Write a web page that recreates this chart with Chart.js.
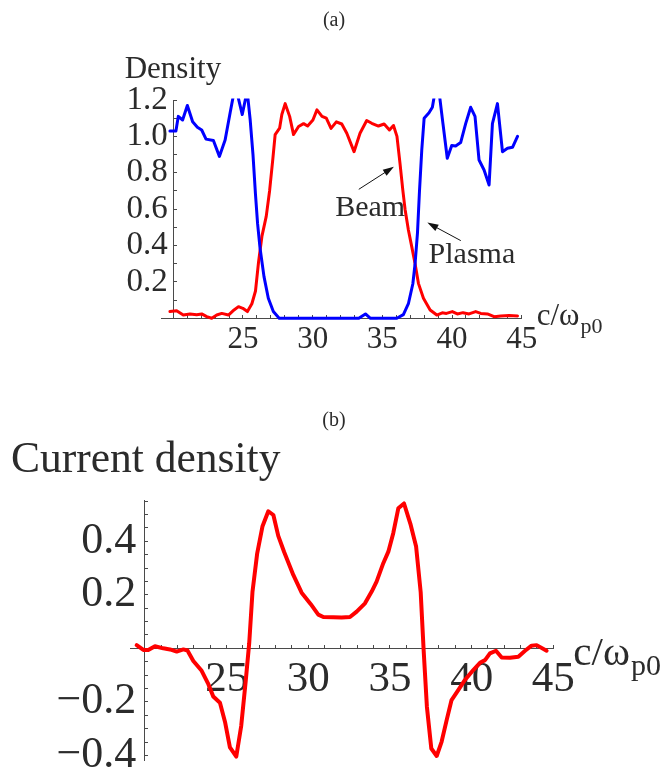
<!DOCTYPE html>
<html>
<head>
<meta charset="utf-8">
<script src="https://cdn.jsdelivr.net/npm/chart.js@4.4.1/dist/chart.umd.min.js"></script>
<style>
  html, body { margin: 0; padding: 0; background: #fff; overflow: hidden; width: 668px; height: 772px; }
  .panel { position: absolute; left: 0; }
  #panelA { top: 0; }
  #panelB { top: 380px; }
</style>
</head>
<body>
<div class="panel" id="panelA"><canvas id="densityChart" width="668" height="380"></canvas></div>
<div class="panel" id="panelB"><canvas id="currentChart" width="668" height="420"></canvas></div>
<script>
// ---- panel (a): beam and plasma density along the propagation axis ----
const beamX = [19.76, 20.24, 20.72, 21.2, 21.68, 22.04, 22.4, 22.76, 23.12, 23.48, 23.96, 24.36, 24.68, 24.99, 25.32,
  25.64, 25.9, 26.12, 26.36, 26.67, 26.91, 27.15, 27.31, 27.63, 27.79, 28.03, 28.35, 28.63, 28.99, 29.35, 29.64,
  30.02, 30.31, 30.67, 30.98, 31.32, 31.7, 32.09, 32.45, 32.97, 33.4, 33.88, 34.24, 34.72, 35.13, 35.51, 35.8,
  36.05, 36.27, 36.47, 36.63, 36.87, 37.11, 37.35, 37.59, 37.95, 38.43, 38.91, 39.3, 39.6, 40.02, 40.38, 40.79,
  41.22, 41.7, 42.06, 42.54, 43.02, 43.5, 44.1, 44.7];
const beamY = [0.037, 0.042, 0.018, 0.024, 0.02, 0.024, 0.009, 0.0, 0.018, 0.027, 0.018, 0.046, 0.064, 0.055, 0.037,
  0.08, 0.15, 0.31, 0.45, 0.56, 0.70, 0.88, 1.01, 1.045, 1.12, 1.18, 1.11, 1.01, 1.054, 1.07, 1.057,
  1.09, 1.146, 1.11, 1.10, 1.044, 1.08, 1.068, 1.017, 0.916, 1.017, 1.087, 1.072, 1.057, 1.068, 1.035, 1.06,
  1.0, 0.85, 0.705, 0.60, 0.485, 0.394, 0.30, 0.192, 0.11, 0.046, 0.018, 0.03, 0.027, 0.037, 0.024, 0.031,
  0.024, 0.037, 0.027, 0.024, 0.009, 0.013, 0.016, 0.013];

const plasmaX = [19.76, 20.19, 20.36, 20.67, 21.01, 21.39, 21.73, 22.04, 22.35, 22.88, 23.31, 23.72, 24.08, 24.45,
  24.95, 25.3, 25.52, 25.72, 25.9, 26.05, 26.22, 26.51, 26.82, 27.18, 27.6, 33.31, 33.79, 34.15, 36.04, 36.51,
  36.87, 37.19, 37.35, 37.52, 37.66, 37.83, 38.0, 38.35, 38.59, 38.95, 39.35, 39.66, 39.98, 40.26, 40.62, 40.98,
  41.34, 41.65, 41.94, 42.3, 42.66, 42.9, 43.26, 43.62, 43.98, 44.34, 44.7];
const plasmaY = [1.03, 1.03, 1.11, 1.09, 1.17, 1.08, 1.05, 1.035, 0.985, 0.977, 0.89, 0.98, 1.13, 1.28,
  1.12, 1.25, 1.09, 0.90, 0.68, 0.52, 0.39, 0.229, 0.11, 0.037, 0.0, 0.0, 0.024, 0.0, 0.0, 0.02,
  0.08, 0.19, 0.30, 0.467, 0.69, 0.925, 1.1, 1.13, 1.16, 1.32, 1.07, 0.88, 0.95, 0.947, 0.966, 1.07,
  1.16, 1.11, 0.87, 0.815, 0.733, 1.07, 1.18, 0.916, 0.935, 0.94, 1.0];

// ---- panel (b): current density ----
const currentX = [19.49, 19.9, 20.2, 20.61, 21.12, 21.53, 21.94, 22.35, 22.6, 22.96, 23.47, 23.88, 24.18, 24.59,
  24.9, 25.2, 25.59, 25.89, 26.17, 26.38, 26.58, 26.87, 27.19, 27.55, 27.86, 28.16, 28.52, 29.08, 29.59, 30.15,
  30.61, 30.92, 31.53, 32.04, 32.55, 32.96, 33.47, 33.88, 34.18, 34.59, 34.9, 35.2, 35.51, 35.86, 36.25, 36.6,
  36.88, 37.06, 37.26, 37.53, 37.86, 38.16, 38.47, 38.77, 39.18, 39.59, 40.1, 40.51, 40.82, 41.12, 41.49, 41.84,
  42.35, 42.86, 43.27, 43.67, 43.98, 44.59];
const currentY = [0.012, -0.006, -0.006, 0.008, 0.0, -0.004, -0.012, -0.004, -0.008, -0.047, -0.084, -0.134, -0.18, -0.203,
  -0.275, -0.37, -0.404, -0.29, -0.12, 0.019, 0.21, 0.355, 0.455, 0.512, 0.498, 0.42, 0.36, 0.274, 0.208, 0.165,
  0.126, 0.117, 0.116, 0.115, 0.117, 0.137, 0.168, 0.212, 0.249, 0.318, 0.361, 0.43, 0.523, 0.541, 0.465, 0.38,
  0.21, -0.006, -0.218, -0.374, -0.402, -0.349, -0.268, -0.193, -0.156, -0.118, -0.081, -0.054, -0.044, -0.019, -0.009, -0.034,
  -0.035, -0.031, -0.009, 0.01, 0.012, -0.009];

// ---- tick labels ----
const posTickValues = [25, 30, 35, 40, 45];
const posTickLabels = ['25', '30', '35', '40', '45'];
const densityTickValues = [0.2, 0.4, 0.6, 0.8, 1.0, 1.2];
const densityTickLabels = ['0.2', '0.4', '0.6', '0.8', '1.0', '1.2'];
const currentTickValues = [-0.4, -0.2, 0.2, 0.4];
const currentTickLabels = ['\u22120.4', '\u22120.2', '0.2', '0.4'];

const SERIF = '"Liberation Serif", "Times New Roman", serif';
const INK = '#2b2b2b';
const AXIS = '#4a4a4a';

// minor + major tick positions, skipping the axis origin
function stepTicks(from, to, step, skip) {
  const out = [];
  for (let k = Math.ceil(from / step - 1e-9); k * step <= to + 1e-9; k++) {
    const v = +(k * step).toFixed(6);
    if (Math.abs(v - skip) > 1e-9) out.push(v);
  }
  return out;
}
// labelled ticks get their text; the rest stay bare marks.
// `gap` is a trailing space that keeps value labels clear of a crossing axis.
function labelFor(v, values, labels, gap) {
  const i = values.findIndex(t => Math.abs(t - v) < 1e-6);
  return i >= 0 ? labels[i] + gap : '';
}
function points(xs, ys) { return xs.map((x, i) => ({x, y: ys[i]})); }

function axisOptions(cfg) {
  return {
    type: 'linear',
    min: cfg.min, max: cfg.max,
    position: cfg.position,
    afterBuildTicks: scale => { scale.ticks = cfg.ticks.map(v => ({value: v})); },
    ticks: {
      autoSkip: false, maxRotation: 0, minRotation: 0,
      padding: cfg.padding,
      color: INK,
      font: {family: SERIF, size: cfg.fontSize},
      callback: v => labelFor(v, cfg.labelValues, cfg.labels, cfg.gap || '')
    },
    grid: {drawOnChartArea: false, drawTicks: true, tickLength: -4, tickColor: AXIS, tickWidth: 1},
    border: {display: true, color: AXIS, width: 1}
  };
}

function drawArrow(ctx, x0, y0, x1, y1) {
  const ang = Math.atan2(y1 - y0, x1 - x0);
  const len = 11, half = 3.6;
  ctx.beginPath();
  ctx.moveTo(x0, y0);
  ctx.lineTo(x1 - Math.cos(ang) * len * 0.8, y1 - Math.sin(ang) * len * 0.8);
  ctx.stroke();
  ctx.beginPath();
  ctx.moveTo(x1, y1);
  ctx.lineTo(x1 - Math.cos(ang) * len + Math.sin(ang) * half, y1 - Math.sin(ang) * len - Math.cos(ang) * half);
  ctx.lineTo(x1 - Math.cos(ang) * len - Math.sin(ang) * half, y1 - Math.sin(ang) * len + Math.cos(ang) * half);
  ctx.closePath();
  ctx.fill();
}

function drawUnit(ctx, x, y, size) {
  ctx.font = size + 'px ' + SERIF;
  ctx.textAlign = 'left';
  ctx.fillText('c/\u03c9', x, y);
  const w = ctx.measureText('c/\u03c9').width;
  ctx.font = Math.round(size * 0.72) + 'px ' + SERIF;
  ctx.fillText('p0', x + w + 1, y + size * 0.24);
}

// callouts for panel (a), placed in data coordinates
const callouts = [
  {text: 'Beam', at: [31.62, 0.565], from: [33.31, 0.709], to: [35.83, 0.833]},
  {text: 'Plasma', at: [38.32, 0.302], from: [40.63, 0.427], to: [38.23, 0.526]}
];

const densityDecor = {
  id: 'densityDecor',
  afterDatasetsDraw(chart) {
    const {ctx, chartArea, scales: {x, y}} = chart;
    ctx.save();
    ctx.fillStyle = INK;
    ctx.strokeStyle = '#111';
    ctx.lineWidth = 1;
    ctx.textBaseline = 'alphabetic';
    ctx.font = '20px ' + SERIF;
    ctx.textAlign = 'center';
    ctx.fillText('(a)', 334, 26);
    ctx.textAlign = 'left';
    ctx.font = '31px ' + SERIF;
    ctx.fillText('Density', chartArea.left - 37, 78);
    drawUnit(ctx, chartArea.right + 15, y.getPixelForValue(0) + 7, 31);
    callouts.forEach(c => {
      ctx.fillStyle = INK;
      ctx.font = '30px ' + SERIF;
      ctx.fillText(c.text, x.getPixelForValue(c.at[0]), y.getPixelForValue(c.at[1]));
      ctx.fillStyle = '#111';
      drawArrow(ctx, x.getPixelForValue(c.from[0]), y.getPixelForValue(c.from[1]),
        x.getPixelForValue(c.to[0]), y.getPixelForValue(c.to[1]));
    });
    ctx.restore();
  }
};

const currentDecor = {
  id: 'currentDecor',
  afterDatasetsDraw(chart) {
    const {ctx, chartArea, scales: {y}} = chart;
    ctx.save();
    ctx.fillStyle = INK;
    ctx.textBaseline = 'alphabetic';
    ctx.font = '20px ' + SERIF;
    ctx.textAlign = 'center';
    ctx.fillText('(b)', 334, 46);
    ctx.textAlign = 'left';
    ctx.font = '43.5px ' + SERIF;
    ctx.fillText('Current density', 11, 92);
    drawUnit(ctx, chartArea.right + 20, y.getPixelForValue(0) + 17, 41);
    ctx.restore();
  }
};

const common = {
  responsive: false,
  animation: false,
  events: [],
  plugins: {legend: {display: false}, tooltip: {enabled: false}},
  elements: {point: {radius: 0}, line: {tension: 0, borderJoinStyle: 'round', borderCapStyle: 'round'}}
};

new Chart(document.getElementById('densityChart'), {
  type: 'line',
  data: {
    datasets: [
      {label: 'Plasma', data: points(plasmaX, plasmaY), borderColor: '#0000ff', borderWidth: 3,
       clip: {left: false, top: 1.5, right: 2, bottom: 2}},
      {label: 'Beam', data: points(beamX, beamY), borderColor: '#ff0000', borderWidth: 3,
       clip: {left: false, top: 1.5, right: 2, bottom: 2}}
    ]
  },
  options: Object.assign({}, common, {
    layout: {padding: {left: 161.7, right: 146.3, top: 100, bottom: 61.7}},
    scales: {
      x: axisOptions({min: 19.17, max: 45, position: {y: 0}, ticks: stepTicks(20, 45, 1, 20),
        labelValues: posTickValues, labels: posTickLabels, fontSize: 31, padding: 7}),
      y: axisOptions({min: 0, max: 1.2, position: {x: 20}, ticks: stepTicks(0, 1.2, 0.1, 0),
        labelValues: densityTickValues, labels: densityTickLabels, fontSize: 33, padding: 5, gap: '\u2006'})
    }
  }),
  plugins: [densityDecor]
});

new Chart(document.getElementById('currentChart'), {
  type: 'line',
  data: {
    datasets: [
      {label: 'Current density', data: points(currentX, currentY), borderColor: '#ff0000', borderWidth: 4,
       clip: {left: false, top: 2, right: 2, bottom: 2}}
    ]
  },
  options: Object.assign({}, common, {
    layout: {padding: {left: 130.3, right: 114.7, top: 120, bottom: 40}},
    scales: {
      x: axisOptions({min: 19.1, max: 45, position: {y: 0}, ticks: stepTicks(20, 45, 1, 20),
        labelValues: posTickValues, labels: posTickLabels, fontSize: 43, padding: 10}),
      y: axisOptions({min: -0.417, max: 0.554, position: {x: 20}, ticks: stepTicks(-0.417, 0.554, 0.05, 0),
        labelValues: currentTickValues, labels: currentTickLabels, fontSize: 44, padding: 8, gap: '\u2009'})
    }
  }),
  plugins: [currentDecor]
});
</script>
</body>
</html>
